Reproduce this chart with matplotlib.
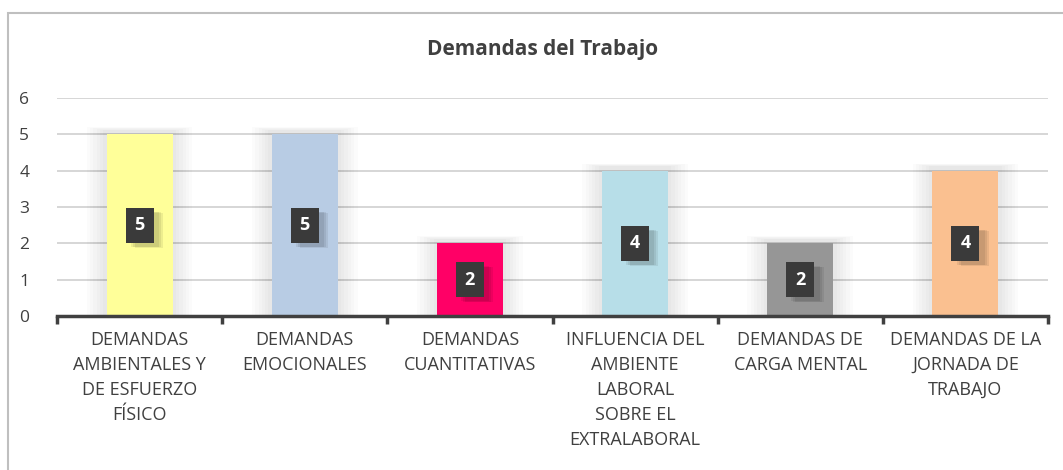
import matplotlib
matplotlib.use("Agg")
import matplotlib.pyplot as plt
from matplotlib.patches import Rectangle
import numpy as np

categories = ["DEMANDAS\nAMBIENTALES Y\nDE ESFUERZO\nFÍSICO",
              "DEMANDAS\nEMOCIONALES",
              "DEMANDAS\nCUANTITATIVAS",
              "INFLUENCIA DEL\nAMBIENTE\nLABORAL\nSOBRE EL\nEXTRALABORAL",
              "DEMANDAS DE\nCARGA MENTAL",
              "DEMANDAS DE LA\nJORNADA DE\nTRABAJO"]
values = [5, 5, 2, 4, 2, 4]
colors = ["#FFFF99", "#B8CCE4", "#FF0066", "#B7DEE8", "#969696", "#FAC090"]
title = "Demandas del Trabajo"
yticks = [0, 1, 2, 3, 4, 5, 6]

plt.rcParams['font.family'] = ['Open Sans', 'DejaVu Sans']

fig = plt.figure(figsize=(10.63, 4.70), dpi=100)
# outer border
fig.patches.append(Rectangle((8/1063, -0.1), 1.2, 1 - 13/470 + 0.1, transform=fig.transFigure,
                             fill=False, edgecolor="#BFBFBF", linewidth=1.5))
ax = fig.add_axes([57/1063, 1 - 316/470, (1048-57)/1063, (316-98)/470])
x = np.arange(len(categories))
bw = 0.4
# soft shadows
for i, v in enumerate(values):
    for k in range(6):
        e = 0.02 * (k + 1)
        ax.add_patch(Rectangle((i - bw/2 - e, 0), bw + 2*e, v + 0.1 + e*0.8,
                               facecolor="#000000", alpha=0.016, edgecolor="none", zorder=1))
ax.bar(x, values, width=bw, color=colors, zorder=3)
for i, v in enumerate(values):
    # label shadow
    for k in range(3):
        d = 0.012 * (k + 1)
        ax.add_patch(Rectangle((i - 0.085 + 0.02 + d, v/2 - 0.48 - 0.1 - d), 0.17, 0.96,
                               facecolor="#000000", alpha=0.07, edgecolor="none", zorder=4))
    ax.add_patch(Rectangle((i - 0.085, v/2 - 0.48), 0.17, 0.96,
                           facecolor="#3A3A3A", edgecolor="none", zorder=5))
    ax.text(i, v/2, str(v), ha="center", va="center", color="white",
            fontsize=13, fontweight="bold", zorder=6)

ax.set_ylim(0, 6)
ax.set_xlim(-0.5, len(categories) - 0.5)
ax.set_yticks(yticks)
ax.yaxis.grid(True, color="#D0D0D0", linewidth=1.2, zorder=0)
ax.set_axisbelow(True)
for s in ["top", "right", "left"]:
    ax.spines[s].set_visible(False)
ax.spines["bottom"].set_color("#404040")
ax.spines["bottom"].set_linewidth(2.5)
ax.spines["bottom"].set_zorder(7)
ax.tick_params(axis="y", length=0, pad=20, labelsize=12.5, labelcolor="#404040")
ax.set_xticks(np.arange(-0.5, len(categories), 1))
ax.set_xticklabels([])
ax.tick_params(axis="x", which="major", length=6, width=2.5, color="#404040", direction="out")
ax.set_xticks(x, minor=True)
ax.set_xticklabels(categories, minor=True, fontsize=13, color="#404040", linespacing=1.5)
ax.tick_params(axis="x", which="minor", length=0, pad=11)
fig.text(543/1063, 1 - 50/470, title, ha="center", va="center", fontsize=15,
         fontweight="bold", color="#404040")
fig.savefig("out.png", dpi=100)
